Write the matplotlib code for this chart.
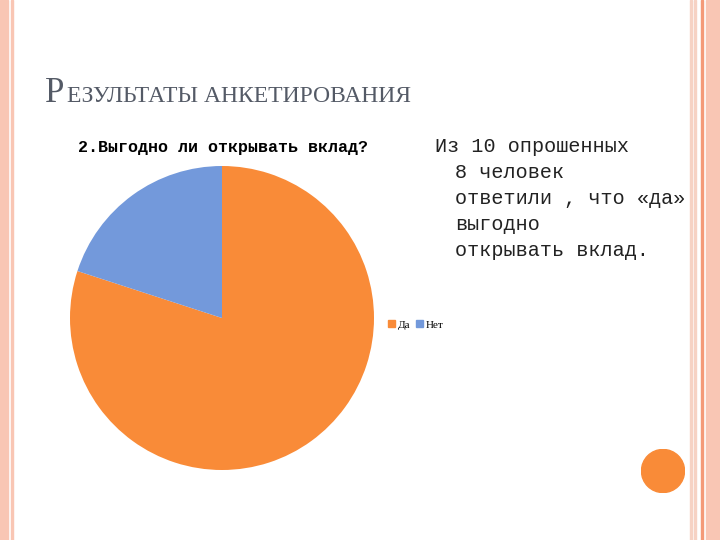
import matplotlib
matplotlib.use("Agg")
import matplotlib.pyplot as plt
from matplotlib.patches import Rectangle, Circle

labels = ["Да", "Нет"]
values = [8, 2]
colors = ["#F98B38", "#7399DB"]

W, H = 720, 540
fig = plt.figure(figsize=(7.2, 5.4), dpi=100)
fig.patch.set_facecolor("white")

def fx(x): return x / W
def fy(y): return 1 - y / H

# borders
for x0, w, c in [(0, 8, "#F9C6B4"), (11, 1.5, "#F9C6B4"), (706, 14, "#F9C6B4"),
                 (701, 2, "#F49A78"), (690, 1.5, "#F6D2C4"), (694, 1.5, "#F6D2C4")]:
    fig.patches.append(Rectangle((fx(x0), 0), fx(w), 1, transform=fig.transFigure, color=c, zorder=0))

cax = fig.add_axes([fx(641), 1 - 493 / H, 44 / W, 44 / H])
cax.add_patch(Circle((0.5, 0.5), 0.49, color="#F98B38"))
cax.set_xlim(0, 1); cax.set_ylim(0, 1); cax.axis("off")

# title
serif = "Liberation Serif"
mono = "Liberation Mono"
fig.text(fx(45), fy(102), "Р", fontsize=25, family=serif, color="#545A66")
fig.text(fx(67), fy(102), "ЕЗУЛЬТАТЫ АНКЕТИРОВАНИЯ", fontsize=17, family=serif, color="#545A66")

# pie
ax = fig.add_axes([fx(70), 1 - 470 / H, 304 / W, 304 / H])
ax.pie(values, colors=colors, startangle=90, counterclock=False,
       wedgeprops=dict(linewidth=0))
ax.set_xlim(-1, 1); ax.set_ylim(-1, 1)
ax.set_aspect("equal")
fig.text(fx(78), fy(152), "2.Выгодно ли открывать вклад?", fontsize=12,
         family=mono, weight="bold", color="black", va="baseline")

# legend
fig.legend(handles=[Rectangle((0, 0), 1, 1, color=c) for c in colors], labels=labels,
           loc="center left", bbox_to_anchor=(fx(378), fy(325)), ncol=2, frameon=False,
           prop=dict(family=serif, size=8), handlelength=0.6, handleheight=0.6,
           handletextpad=0.3, columnspacing=0.5)

# side text
fig.text(fx(435), fy(152), "Из 10 опрошенных", fontsize=14.5, family=mono, color="#222222", va="baseline")
for i, line in enumerate(["8 человек", "ответили , что «да»", "выгодно", "открывать вклад."]):
    fig.text(fx(455), fy(178 + 26 * i), line, fontsize=14.5, family=mono, color="#222222", va="baseline")

fig.savefig("out.png", dpi=100, facecolor="white")
